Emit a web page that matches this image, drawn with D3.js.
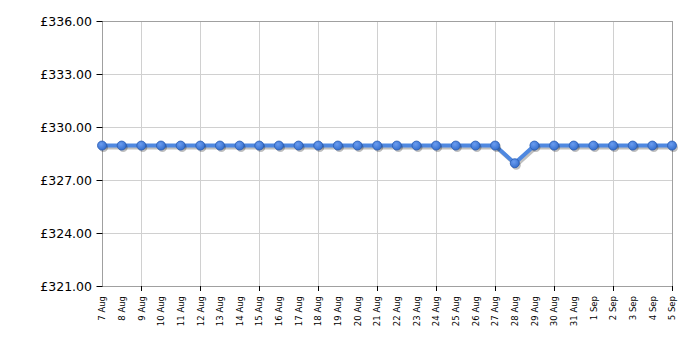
<!DOCTYPE html>
<html>
<head>
<meta charset="utf-8">
<script src="https://cdn.jsdelivr.net/npm/d3@7"></script>
<style>
  body { margin: 0; background: #fff; }
  svg { display: block; }
</style>
</head>
<body>
<div id="chart"></div>
<script>
'use strict'

const WIDTH = 700
const HEIGHT = 350
const margin = { top: 21, right: 28, bottom: 64, left: 102 }

const dates = [
  '7 Aug', '8 Aug', '9 Aug', '10 Aug', '11 Aug', '12 Aug', '13 Aug', '14 Aug',
  '15 Aug', '16 Aug', '17 Aug', '18 Aug', '19 Aug', '20 Aug', '21 Aug', '22 Aug',
  '23 Aug', '24 Aug', '25 Aug', '26 Aug', '27 Aug', '28 Aug', '29 Aug', '30 Aug',
  '31 Aug', '1 Sep', '2 Sep', '3 Sep', '4 Sep', '5 Sep'
]
const prices = [
  328.95, 328.95, 328.95, 328.95, 328.95, 328.95, 328.95, 328.95,
  328.95, 328.95, 328.95, 328.95, 328.95, 328.95, 328.95, 328.95,
  328.95, 328.95, 328.95, 328.95, 328.95, 327.95, 328.95, 328.95,
  328.95, 328.95, 328.95, 328.95, 328.95, 328.95
]
const yTicks = [321, 324, 327, 330, 333, 336]
// vertical grid lines every third day, counted back from the last one
const xGridLabels = ['9 Aug', '12 Aug', '15 Aug', '18 Aug', '21 Aug', '24 Aug', '27 Aug', '30 Aug', '2 Sep', '5 Sep']

const lineColor = '#4f88e0'
const markerColor = '#3670cf'

const innerW = WIDTH - margin.left - margin.right
const innerH = HEIGHT - margin.top - margin.bottom

const svg = d3.select('#chart')
  .append('svg')
  .attr('width', WIDTH)
  .attr('height', HEIGHT)

const defs = svg.append('defs')
const grad = defs.append('radialGradient')
  .attr('id', 'dot')
  .attr('cx', '40%').attr('cy', '35%').attr('r', '65%')
grad.append('stop').attr('offset', '0%').attr('stop-color', '#6a9cf0')
grad.append('stop').attr('offset', '100%').attr('stop-color', markerColor)

const g = svg.append('g')
  .attr('transform', `translate(${margin.left},${margin.top})`)

const x = d3.scalePoint().domain(dates).range([0, innerW])
const y = d3.scaleLinear().domain([321, 336]).range([innerH, 0])

// grid
g.append('g')
  .selectAll('line')
  .data(yTicks)
  .enter()
  .append('line')
  .attr('x1', 0).attr('x2', innerW)
  .attr('y1', d => Math.round(y(d)) + 0.5).attr('y2', d => Math.round(y(d)) + 0.5)
  .attr('stroke', '#d0d0d0')

g.append('g')
  .selectAll('line')
  .data(xGridLabels)
  .enter()
  .append('line')
  .attr('x1', d => Math.round(x(d)) + 0.5).attr('x2', d => Math.round(x(d)) + 0.5)
  .attr('y1', 0).attr('y2', innerH)
  .attr('stroke', '#d0d0d0')

// frame
g.append('rect')
  .attr('x', 0.5).attr('y', 0.5)
  .attr('width', innerW).attr('height', innerH)
  .attr('fill', 'none')
  .attr('stroke', '#a0a0a0')

// y axis
const yAxis = g.append('g')
  .call(d3.axisLeft(y).tickValues(yTicks).tickSize(6).tickPadding(4)
    .tickFormat(d => '£' + d3.format('.2f')(d)))
yAxis.select('.domain').remove()
yAxis.selectAll('.tick line').attr('stroke', '#000').attr('transform', 'translate(0.5,0)')
yAxis.selectAll('text')
  .attr('font-family', 'Verdana, "DejaVu Sans", sans-serif')
  .attr('font-size', '12.5px')
  .attr('fill', '#000')

// x axis
const xAxis = g.append('g')
  .attr('transform', `translate(0,${innerH})`)
  .call(d3.axisBottom(x).tickSize(0).tickPadding(0))
xAxis.select('.domain').remove()
xAxis.selectAll('.tick text')
  .attr('font-family', 'Verdana, "DejaVu Sans", sans-serif')
  .attr('font-size', '8.5px')
  .attr('fill', '#000')
  .attr('text-anchor', 'end')
  .attr('dy', '0.32em')
  .attr('transform', 'translate(0,10) rotate(-90)')
  .attr('x', 0).attr('y', 0)

g.append('g')
  .selectAll('line')
  .data(xGridLabels)
  .enter()
  .append('line')
  .attr('x1', d => Math.round(x(d)) + 0.5).attr('x2', d => Math.round(x(d)) + 0.5)
  .attr('y1', innerH).attr('y2', innerH + 5)
  .attr('stroke', '#000')

// series
const points = dates.map((d, i) => ({ date: d, price: prices[i] }))
const line = d3.line().x(d => x(d.date)).y(d => y(d.price))

g.append('path')
  .datum(points)
  .attr('d', line)
  .attr('fill', 'none')
  .attr('stroke', '#000')
  .attr('stroke-opacity', 0.25)
  .attr('stroke-width', 4)
  .attr('transform', 'translate(1.5,2)')

g.append('path')
  .datum(points)
  .attr('d', line)
  .attr('fill', 'none')
  .attr('stroke', lineColor)
  .attr('stroke-width', 4)
  .attr('stroke-linejoin', 'round')

g.append('g')
  .selectAll('circle')
  .data(points)
  .enter()
  .append('circle')
  .attr('cx', d => x(d.date) + 1.5)
  .attr('cy', d => y(d.price) + 2)
  .attr('r', 4.5)
  .attr('fill', '#000')
  .attr('fill-opacity', 0.25)

g.append('g')
  .selectAll('circle')
  .data(points)
  .enter()
  .append('circle')
  .attr('cx', d => x(d.date))
  .attr('cy', d => y(d.price))
  .attr('r', 4.5)
  .attr('fill', 'url(#dot)')
  .attr('stroke', '#2a5cb2')
  .attr('stroke-width', 0.8)
</script>
</body>
</html>
